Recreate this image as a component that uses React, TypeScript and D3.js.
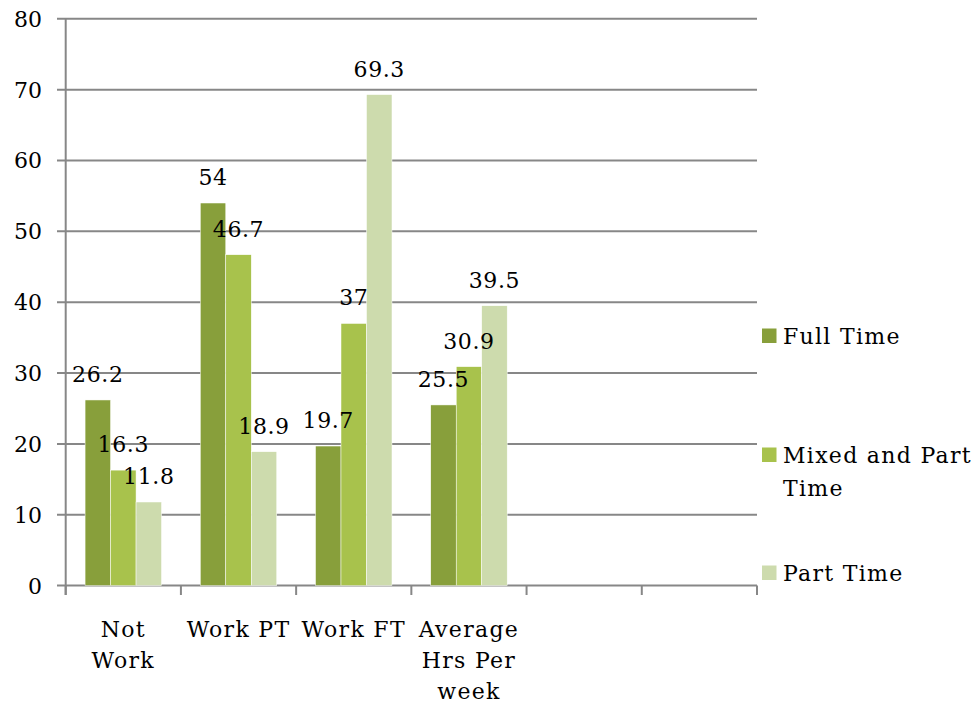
import React from "react";
import * as d3 from "d3";

const categories: string[][] = [["Not", "Work"], ["Work PT"], ["Work FT"], ["Average", "Hrs Per", "week"]];
const slotCount = 6;
const seriesNames: string[][] = [["Full Time"], ["Mixed and Part", "Time"], ["Part Time"]];
const fullTime = [26.2, 54, 19.7, 25.5];
const mixedPartTime = [16.3, 46.7, 37, 30.9];
const partTime = [11.8, 18.9, 69.3, 39.5];
const yTicks = [0, 10, 20, 30, 40, 50, 60, 70, 80];
const colors = ["#889F3B", "#A8C24C", "#CDDBAD"];

const W = 977;
const H = 703;
const FONT = "'DejaVu Serif', serif";

export default function App() {
  const series = [fullTime, mixedPartTime, partTime];
  const x = d3.scaleBand<number>().domain(d3.range(slotCount)).range([65.7, 757]).padding(0);
  const xi = d3.scaleBand<number>().domain([0, 1, 2]).range([0, x.bandwidth()]).paddingInner(0).paddingOuter(0.76);
  const y = d3.scaleLinear().domain([0, 80]).range([585.6, 18.8]);
  const fs = 22;
  const ls = 1.3;
  const legendY = [336, 455, 573];

  return (
    <svg width={W} height={H} style={{ position: "absolute", left: 0, top: 0 }} fontFamily={FONT}>
      <rect width={W} height={H} fill="#fff" />
      {yTicks.map((t) => (
        <g key={t}>
          <line x1={57} x2={757} y1={y(t)} y2={y(t)} stroke="#878787" strokeWidth={2} />
          <text x={42} y={y(t)} dy="0.36em" textAnchor="end" fontSize={fs} fill="#000">{t}</text>
        </g>
      ))}
      <line x1={65.7} x2={65.7} y1={y(80)} y2={595} stroke="#878787" strokeWidth={2} />
      {d3.range(slotCount + 1).map((i) => {
        const xx = i < slotCount ? (x(i) as number) : 757;
        return <line key={i} x1={xx} x2={xx} y1={y(0)} y2={595} stroke="#878787" strokeWidth={2} />;
      })}
      {series.map((s, si) =>
        s.map((v, ci) => {
          const bx = (x(ci) as number) + (xi(si) as number);
          return (
            <rect key={`${si}-${ci}`} x={bx} y={y(v)} width={xi.bandwidth()} height={y(0) - y(v)} fill={colors[si]} stroke="#fff" strokeWidth={0.5} />
          );
        })
      )}
      {series.map((s, si) =>
        s.map((v, ci) => {
          const cx = (x(ci) as number) + (xi(si) as number) + xi.bandwidth() / 2;
          return (
            <text key={`l${si}-${ci}`} x={cx} y={y(v) - 18} textAnchor="middle" fontSize={fs} letterSpacing={0.6} fill="#000">{v}</text>
          );
        })
      )}
      {categories.map((lines, ci) => {
        const cx = (x(ci) as number) + x.bandwidth() / 2;
        return (
          <text key={`c${ci}`} x={cx} y={637} textAnchor="middle" fontSize={fs} letterSpacing={ls} fill="#000">
            {lines.map((ln, li) => (
              <tspan key={li} x={cx} dy={li === 0 ? 0 : 31}>{ln}</tspan>
            ))}
          </text>
        );
      })}
      {seriesNames.map((lines, si) => (
        <g key={`lg${si}`}>
          <rect x={762} y={legendY[si] - 7.5} width={14.5} height={14.5} fill={colors[si]} />
          <text x={783} y={legendY[si] + 8} fontSize={fs} letterSpacing={ls} fill="#000">
            {lines.map((ln, li) => (
              <tspan key={li} x={783} dy={li === 0 ? 0 : 33}>{ln}</tspan>
            ))}
          </text>
        </g>
      ))}
    </svg>
  );
}
